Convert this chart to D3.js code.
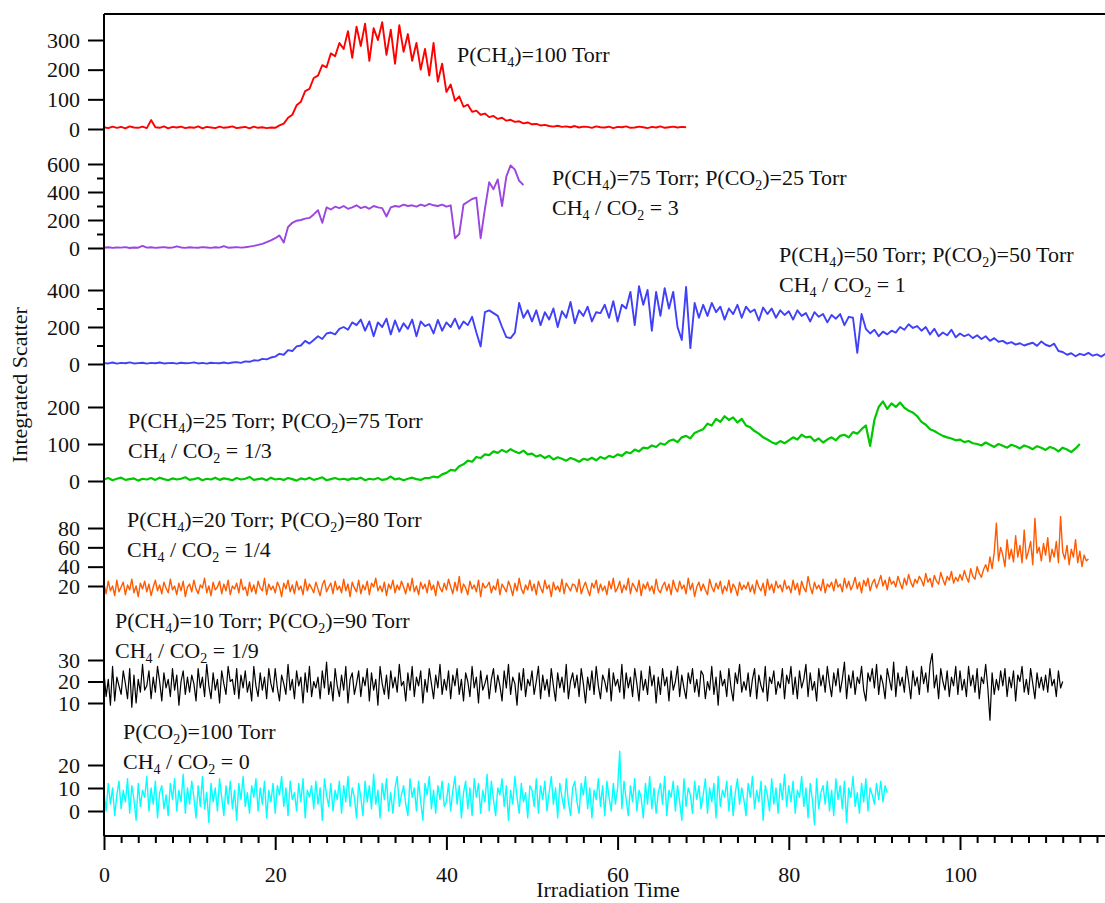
<!DOCTYPE html>
<html>
<head>
<meta charset="utf-8">
<script src="https://cdn.jsdelivr.net/npm/d3@7"></script>
<style>
  body { margin: 0; background: #fff; }
  svg { display: block; font-family: 'Liberation Serif', 'Times New Roman', serif; }
</style>
</head>
<body>
<div id="chart"></div>
<script>
// Paso de tiempo entre muestras (las series con mucho ruido van más densas)
const coarse_step = 0.5
const fine_step = 0.25

// Valores
const red_values = [
  6,3,8,4,7,2,9,5,4,8, 3,30,6,4,9,2,7,5,8,3, 6,4,9,2,7,5,3,8,4,6, 9,3,5,7,2,8,4,6,3,5,
  4,12,18,38,48,80,92,128,135,172,180,215,208,255,245,290,
  270,330,240,345,280,355,230,340,300,360,250,335,220,350,260,320,
  230,290,200,270,180,290,160,220,125,150,95,110,75,82,58,62,
  48,52,40,44,34,38,28,31,24,26,19,22,16,17,12,14,
  10,8,11,7,9,6,10,5,8,7,4,9,6,5,8,3,7,6,9,4,5,8,6,3,7,5,9,4,6,8,5,7,6
]

const purple_values = [
  2,5,1,4,3,6,0,4,2,15,3,5,1,4,6,2,3,12,4,1,5,3,2,6,4,1,5,3,14,2,4,6,3,5,
  10,15,22,30,42,55,70,90,
  40,150,180,195,200,210,215,240,
  270,180,290,275,295,285,300,280,290,305,285,295,280,300,290,285,
  225,290,300,295,310,300,305,295,310,300,315,305,300,310,295,305,
  70,100,310,330,350,360,70,280,
  470,420,490,300,510,590,560,480,450
]

const blue_values = [
  5,3,8,2,6,4,9,3,5,7,2,6,4,8,3,5,6,2,7,4,5,9,3,6,2,7,5,4,8,3,
  8,10,6,14,12,20,18,28,25,35,
  40,55,50,75,70,95,100,125,110,130,
  150,135,165,170,160,190,200,185,225,210,
  240,180,230,150,225,200,245,160,235,175,220,190,240,150,230,205,215,165,238,180,
  225,200,245,190,230,210,255,170,95,280,
  290,275,260,200,145,140,170,330,250,290,
  230,290,210,280,240,300,200,285,250,335,220,290,260,310,230,280,
  275,320,250,340,230,320,300,390,210,420,320,400,180,390,260,410,
  300,390,200,130,416,86,330,250,
  320,260,330,280,310,240,300,270,320,250,310,280,295,235,305,270,300,250,290,265,
  285,240,290,260,275,230,280,255,270,225,265,245,270,210,255,250,60,
  270,190,165,185,150,175,160,180,170,200,185,215,195,205,
  180,200,160,190,150,170,155,185,145,165,150,160,140,155,135,150,125,140,120,
  125,110,118,105,112,100,108,115,98,122,104,96,110,70,65,
  50,58,42,55,48,60,45,52,40,55
]

const green_values = [
  4,8,2,6,9,3,5,7,1,6,4,8,3,9,5,2,7,4,6,10,3,5,8,2,6,4,9,3,7,5,
  2,8,4,6,11,3,5,7,2,9,4,6,3,8,5,1,7,4,9,3,6,10,2,5,8,4,6,3,7,5,
  9,2,6,4,8,3,5,12,4,7,2,6,9,5,3,8,
  8,12,10,18,22,30,28,40,45,55,52,65,62,72,70,80,76,84,78,86,80,75,82,72,
  74,66,70,62,68,58,64,60,55,62,58,52,60,57,63,56,65,60,68,64,
  72,68,78,75,85,80,90,88,96,92,102,98,108,112,105,118,122,115,130,135,
  140,155,150,168,160,175,165,172,158,168,150,145,
  135,128,118,112,105,100,108,102,
  110,118,112,125,118,120,108,115,104,112,118,110,122,125,118,132,128,140,
  150,95,165,200,215,195,210,200,212,198,190,185,
  175,160,152,140,135,128,122,118,115,110,112,105,108,102,
  100,96,104,98,92,100,95,90,98,94,88,96,92,86,94,90,84,92,88,80,90,85,78,88,100
]

const orange_values = [
  22,12,25,15,20,10,26,14,19,24,11,21,16,27,13,20,9,23,17,25,
  14,22,10,19,26,15,21,12,24,18,13,27,16,20,11,23,15,25,9,19,
  22,14,26,17,12,21,18,28,13,20,10,24,16,19,25,12,22,15,26,11,
  20,17,23,13,27,16,19,10,24,14,21,12,25,18,15,28,11,22,16,20,
  13,24,19,9,23,17,26,14,21,12,25,16,20,11,27,15,22,18,13,24,
  17,10,21,26,14,19,23,12,25,16,20,13,27,15,22,9,24,18,14,26,
  12,21,16,25,11,23,19,28,15,20,14,24,10,22,17,26,13,21,16,25,
  19,12,23,15,28,14,20,11,24,17,22,13,26,16,21,10,25,18,14,23,
  16,27,19,12,24,15,30,13,22,18,11,25,17,21,14,26,9,23,18,20,
  24,13,20,16,27,11,22,18,14,25,19,10,23,15,28,17,12,21,16,26,
  15,22,11,25,18,13,26,17,21,9,24,16,20,14,27,12,23,19,15,22,
  21,14,27,12,19,24,16,10,23,18,26,13,22,15,20,11,25,17,28,14,
  18,25,13,21,16,28,12,23,19,14,26,10,22,17,24,15,20,12,27,16,
  13,20,24,15,22,11,26,18,14,25,17,21,12,28,16,23,9,19,24,15,
  22,16,11,27,19,14,23,17,25,12,20,15,26,13,22,18,10,24,16,21,
  17,24,14,21,12,26,19,15,23,10,27,16,22,13,25,18,21,14,26,17,
  20,13,26,16,23,11,25,18,14,30,19,12,24,17,21,15,27,13,22,19,
  24,15,27,19,22,14,28,18,25,16,21,29,17,24,13,26,20,28,15,23,
  27,18,24,31,20,26,16,29,22,25,19,30,23,17,28,21,32,24,19,27,
  23,30,26,20,33,24,28,19,31,25,22,34,27,21,30,26,35,23,29,25,
  32,26,36,29,24,38,30,27,40,33,29,37,
  42,35,50,38,55,85,46,60,
  52,40,68,48,58,45,72,50,62,44,78,48,56,66,42,90,54,60,46,64,
  52,70,45,58,50,66,44,92,55,48,62,42,58,50,68,44,56,40,52,46,
  48
]

const black_values = [
  24,13,21,9,27,11,22,18,14,25,19,12,26,8,23,10,21,15,28,16,
  18,25,12,22,15,27,20,11,24,17,21,13,26,16,23,9,20,25,14,22,
  15,23,19,11,26,17,22,13,28,18,12,24,16,21,10,25,19,14,27,20,
  21,14,26,12,23,17,25,15,20,11,27,18,13,24,16,22,12,26,19,15,
  26,17,11,23,19,14,28,16,21,12,25,18,22,10,24,15,27,13,20,17,
  22,12,25,17,29,14,20,11,26,18,13,23,16,27,10,21,24,14,19,25,
  13,22,18,26,11,24,16,21,9,27,19,14,23,12,25,17,22,15,28,18,
  20,11,24,16,27,13,22,18,25,10,21,15,26,19,12,23,17,28,14,21,
  16,25,12,23,18,26,14,21,11,24,20,13,27,17,22,10,25,16,19,23,
  12,21,26,15,23,18,11,25,17,28,14,22,19,9,24,16,26,13,21,18,
  25,14,20,27,12,23,16,21,13,26,18,11,24,17,22,15,28,12,20,24,
  17,23,13,26,19,10,22,16,25,14,27,18,12,23,20,15,26,11,24,18,
  21,15,28,12,24,17,22,13,26,19,11,25,16,21,14,27,18,23,10,22,
  14,26,18,22,11,25,16,20,27,13,23,17,12,24,19,26,15,21,13,25,
  23,12,20,16,27,14,22,9,25,18,21,13,26,17,11,24,19,28,15,20,
  16,24,13,21,26,12,23,18,15,27,11,22,19,25,14,20,17,26,12,23,
  19,27,14,22,12,25,17,21,28,13,24,16,20,11,26,18,23,15,27,19,
  13,24,18,26,15,21,29,12,23,17,25,14,22,19,27,16,11,24,20,26,
  17,28,14,23,19,12,26,21,16,29,13,24,18,22,15,27,20,12,25,18,
  22,14,27,19,24,15,28,33,17,23,12,26,20,16,25,13,22,18,27,14,
  25,16,21,13,27,18,23,15,26,12,22,19,28,17,2,24,14,21,16,25,
  18,26,13,22,17,25,11,23,20,27,15,21,14,26,19,12,24,17,22,16,
  23,15,26,18,21,13,25,17,20
]

const cyan_values = [
  8,0,12,3,10,-2,7,13,1,9,4,14,-1,11,5,-4,12,2,9,6,
  15,0,10,3,13,-3,8,11,1,7,-2,12,5,14,0,9,4,16,-1,10,
  3,13,6,-3,11,2,15,1,8,-5,12,4,10,0,14,6,-2,11,3,13,
  1,9,-4,12,5,15,2,8,-1,11,6,14,0,10,3,13,-3,9,4,12,
  -1,11,7,15,2,10,-2,13,5,8,0,12,4,14,-3,9,6,11,1,13,
  3,10,-4,14,7,2,12,0,9,5,13,-1,11,4,15,2,10,6,-3,12,
  6,-2,13,4,11,1,16,3,9,-3,12,5,14,0,8,-1,10,15,2,7,
  11,3,-2,14,6,10,0,13,4,-4,12,7,15,1,9,-1,11,5,13,2,
  4,12,0,9,15,3,11,-3,8,13,1,10,-2,14,6,12,-1,9,4,16,
  0,13,5,-2,10,7,14,2,11,-4,9,3,15,6,-1,12,4,8,-3,11,
  9,2,14,-1,11,5,13,0,8,15,3,10,-3,12,6,1,14,4,-2,10,
  13,4,-1,12,7,15,1,10,-3,9,5,14,2,11,-2,13,6,0,12,3,
  10,26,1,13,5,-2,11,4,14,0,9,6,-3,12,3,15,1,10,-1,8,
  12,3,15,-2,9,6,13,0,11,4,-4,14,2,10,7,-1,13,5,11,1,
  7,14,-1,10,4,12,-3,15,2,9,6,13,0,11,-2,8,14,3,10,5,
  -2,12,6,15,1,9,4,13,-4,11,7,0,14,3,10,-1,12,5,16,2,
  11,4,13,-1,9,6,15,2,10,-3,12,5,-6,14,1,8,11,3,13,0,
  9,-2,14,5,11,1,13,-5,10,6,15,2,8,-1,12,4,14,0,10,7,
  3,12,5,13,4,11,8
]

// Marcas de los ejes
const red_ticks = [0, 100, 200, 300]
const purple_ticks = [0, 200, 400, 600]
const purple_minor = [100, 300, 500]
const blue_ticks = [0, 200, 400]
const blue_minor = [100, 300]
const green_ticks = [0, 100, 200]
const orange_ticks = [20, 40, 60, 80]
const black_ticks = [10, 20, 30]
const cyan_ticks = [0, 10, 20]
const x_ticks = [0, 20, 40, 60, 80, 100]
const x_minor = d3.range(0, 117, 2).filter(t => t % 20 != 0)

// Textos de cada panel (_n = subíndice)
const red_label = ['P(CH_4)=100 Torr']
const purple_label = ['P(CH_4)=75 Torr; P(CO_2)=25 Torr', 'CH_4 / CO_2 = 3']
const blue_label = ['P(CH_4)=50 Torr; P(CO_2)=50 Torr', 'CH_4 / CO_2 = 1']
const green_label = ['P(CH_4)=25 Torr; P(CO_2)=75 Torr', 'CH_4 / CO_2 = 1/3']
const orange_label = ['P(CH_4)=20 Torr; P(CO_2)=80 Torr', 'CH_4 / CO_2 = 1/4']
const black_label = ['P(CH_4)=10 Torr; P(CO_2)=90 Torr', 'CH_4 / CO_2 = 1/9']
const cyan_label = ['P(CO_2)=100 Torr', 'CH_4 / CO_2 = 0']

const width = 1105
const height = 903
const left = 104
const top_y = 14
const bottom_y = 836
const font_size = 22

// Cada panel: datos, color, posición vertical y texto
const panels = [
  { values: red_values, step: coarse_step, color: '#ff0000', sw: 1.9, domain: [0, 300], range: [129, 40], ticks: red_ticks, minor: [], label: red_label, lx: 457, ly: 62 },
  { values: purple_values, step: coarse_step, color: '#9a45e0', sw: 1.9, domain: [0, 600], range: [248, 164], ticks: purple_ticks, minor: purple_minor, label: purple_label, lx: 552, ly: 185 },
  { values: blue_values, step: coarse_step, color: '#4040f8', sw: 1.9, domain: [0, 400], range: [364, 290], ticks: blue_ticks, minor: blue_minor, label: blue_label, lx: 779, ly: 262 },
  { values: green_values, step: coarse_step, color: '#00c800', sw: 2.2, domain: [0, 200], range: [481, 407], ticks: green_ticks, minor: [], label: green_label, lx: 128, ly: 428 },
  { values: orange_values, step: fine_step, color: '#ff5a00', sw: 1.4, domain: [20, 80], range: [586, 528], ticks: orange_ticks, minor: [], label: orange_label, lx: 127, ly: 527 },
  { values: black_values, step: fine_step, color: '#000000', sw: 1.2, domain: [10, 30], range: [703, 660], ticks: black_ticks, minor: [], label: black_label, lx: 115, ly: 628 },
  { values: cyan_values, step: fine_step, color: '#00ffff', sw: 1.4, domain: [0, 20], range: [811, 765], ticks: cyan_ticks, minor: [], label: cyan_label, lx: 123, ly: 739 }
]

const svg = d3.select('#chart').append('svg')
  .attr('width', width)
  .attr('height', height)

// Escala del tiempo compartida
const x = d3.scaleLinear().domain([0, 117]).range([left, left + 117 * 8.56])

// Escribe una línea con subíndices
const write_line = (g, text, px, py) => {
  const t = g.append('text')
    .attr('x', px)
    .attr('y', py)
    .attr('font-size', font_size)
    .attr('fill', '#111')
  const parts = text.split(/_(\d)/)
  parts.forEach((p, i) => {
    if (i % 2 == 1) {
      t.append('tspan').attr('font-size', 14).attr('dy', 5).text(p)
    } else if (p.length) {
      t.append('tspan').attr('dy', i == 0 ? 0 : -5).text(p)
    }
  })
}

panels.forEach(p => {
  const y = d3.scaleLinear().domain(p.domain).range(p.range)

  const line = d3.line()
    .x((d, i) => x(i * p.step))
    .y(d => y(d))

  svg.append('path')
    .datum(p.values)
    .attr('fill', 'none')
    .attr('stroke', p.color)
    .attr('stroke-width', p.sw)
    .attr('stroke-linejoin', 'round')
    .attr('d', line)

  // Eje y del panel
  const ax = svg.append('g')
    .attr('transform', `translate(${left},0)`)
    .call(d3.axisLeft(y).tickValues(p.ticks).tickSize(16).tickPadding(8))
  ax.select('.domain').remove()
  ax.selectAll('line').attr('stroke-width', 2)
  ax.selectAll('text')
    .attr('font-size', font_size)
    .attr('font-family', "'Liberation Serif', serif")
    .attr('fill', '#111')

  if (p.minor.length) {
    const mx = svg.append('g')
      .attr('transform', `translate(${left},0)`)
      .call(d3.axisLeft(y).tickValues(p.minor).tickSize(7).tickFormat(''))
    mx.select('.domain').remove()
    mx.selectAll('line').attr('stroke-width', 2)
  }

  p.label.forEach((s, i) => write_line(svg, s, p.lx, p.ly + i * 30))
})

// Eje x
const xa = svg.append('g')
  .attr('transform', `translate(0,${bottom_y})`)
  .call(d3.axisBottom(x).tickValues(x_ticks).tickSize(14).tickPadding(16))
xa.select('.domain').remove()
xa.selectAll('line').attr('stroke-width', 2)
xa.selectAll('text')
  .attr('font-size', font_size)
  .attr('font-family', "'Liberation Serif', serif")
  .attr('fill', '#111')

const xm = svg.append('g')
  .attr('transform', `translate(0,${bottom_y})`)
  .call(d3.axisBottom(x).tickValues(x_minor).tickSize(7).tickFormat(''))
xm.select('.domain').remove()
xm.selectAll('line').attr('stroke-width', 2)

// Marco: izquierda, arriba y abajo
svg.append('line')
  .attr('x1', left).attr('x2', left).attr('y1', top_y).attr('y2', bottom_y)
  .attr('stroke', '#000').attr('stroke-width', 2)
svg.append('line')
  .attr('x1', left).attr('x2', width).attr('y1', top_y).attr('y2', top_y)
  .attr('stroke', '#000').attr('stroke-width', 2)
svg.append('line')
  .attr('x1', left).attr('x2', width).attr('y1', bottom_y).attr('y2', bottom_y)
  .attr('stroke', '#000').attr('stroke-width', 2)

// Títulos de ejes
svg.append('text')
  .attr('x', 608)
  .attr('y', 897)
  .attr('text-anchor', 'middle')
  .attr('font-size', font_size)
  .attr('fill', '#111')
  .text('Irradiation Time')

svg.append('text')
  .attr('transform', 'translate(27,385) rotate(-90)')
  .attr('text-anchor', 'middle')
  .attr('font-size', font_size)
  .attr('fill', '#111')
  .text('Integrated Scatter')
</script>
</body>
</html>
